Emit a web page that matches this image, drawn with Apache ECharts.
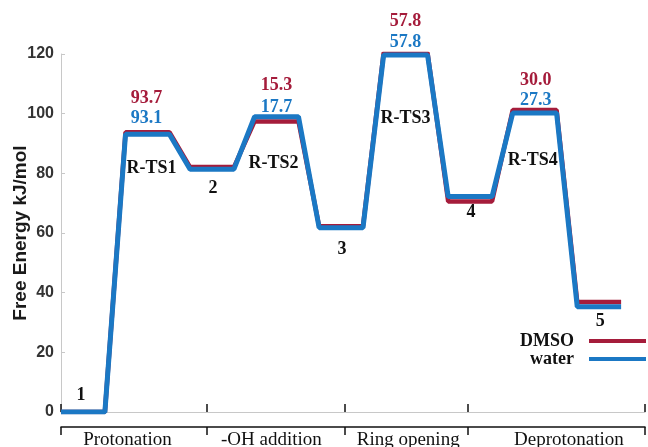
<!DOCTYPE html>
<html>
<head>
<meta charset="utf-8">
<script src="https://cdn.jsdelivr.net/npm/echarts@6/dist/echarts.min.js"></script>
<style>
  html, body { margin: 0; padding: 0; background: #fff; }
  #chart { width: 648px; height: 447px; }
</style>
</head>
<body>
<div id="chart"></div>
<script>
// states along the reaction path (plateau i spans [i, i + PLATEAU])
var states = ['1', 'R-TS1', '2', 'R-TS2', '3', 'R-TS3', '4', 'R-TS4', '5'];
var dmso = [0, 93.8, 82.1, 97.4, 62.3, 120.4, 70.6, 101.2, 36.9];
var water = [0, 93.1, 81.4, 99.0, 61.8, 119.7, 72.2, 100.2, 35.3];

// barrier numbers written over the transition states
var tsIndex = [1, 3, 5, 7];
var dmsoBarrier = ['93.7', '15.3', '57.8', '30.0'];
var waterBarrier = ['93.1', '17.7', '57.8', '27.3'];

// reaction stages along the bottom bracket
var phases = ['Protonation', '-OH addition', 'Ring opening', 'Deprotonation'];
var phaseBounds = [0, 2.26, 4.40, 6.31, 9.05];
var phaseLabelAt = [1.03, 3.26, 5.38, 7.87];

var PLATEAU = 0.68;
var RED = '#a51c3b';
var BLUE = '#1b78c4';

// label nudges in px (x, y) relative to each plateau centre
var stateLabelOff = [[-2, -17], [4, 34], [1, 19], [-3, 47], [1, 22], [0, 63], [1, 16], [-2, 47], [1, 15]];
var dmsoLabelOff = [[-1, -34], [0, -36], [0, -31], [1, -30]];
var waterLabelOff = [[-1, -16], [0, -9], [0, -13], [1, -13]];

function path(levels) {
  var pts = [];
  levels.forEach(function (v, i) {
    pts.push([i, v]);
    pts.push([i + PLATEAU, v]);
  });
  return pts;
}

var serifBold = { fontFamily: 'Liberation Serif', fontWeight: 'bold', fontSize: 18 };

var stateLabelData = states.map(function (s, i) {
  return {
    value: [i + PLATEAU / 2, water[i]],
    label: { formatter: s, offset: stateLabelOff[i] }
  };
});
var dmsoLabelData = tsIndex.map(function (k, j) {
  return {
    value: [k + PLATEAU / 2, dmso[k]],
    label: { formatter: dmsoBarrier[j], offset: dmsoLabelOff[j] }
  };
});
var waterLabelData = tsIndex.map(function (k, j) {
  return {
    value: [k + PLATEAU / 2, water[k]],
    label: { formatter: waterBarrier[j], offset: waterLabelOff[j] }
  };
});

function labelSeries(data, color) {
  return {
    type: 'scatter',
    silent: true,
    clip: false,
    symbolSize: 1,
    itemStyle: { color: 'rgba(0,0,0,0)', opacity: 1 },
    z: 5,
    label: Object.assign({ show: true, position: 'inside', color: color, opacity: 1 }, serifBold),
    data: data
  };
}

var myChart = echarts.init(document.getElementById('chart'), null, { renderer: 'canvas' });

var option = {
  animation: false,
  grid: { left: 61, right: 3, top: 54, bottom: 35, containLabel: false, outerBoundsMode: 'none' },
  legend: [
    {
      data: ['DMSO'], right: 2, top: 332, padding: 0, align: 'right',
      icon: 'rect', itemWidth: 57, itemHeight: 4,
      textStyle: Object.assign({ color: '#111', padding: [0, 10, 0, 0] }, serifBold)
    },
    {
      data: ['water'], right: 2, top: 350, padding: 0, align: 'right',
      icon: 'rect', itemWidth: 57, itemHeight: 4,
      textStyle: Object.assign({ color: '#111', padding: [0, 10, 0, 0] }, serifBold)
    }
  ],
  xAxis: [
    {
      type: 'value', min: 0, max: 9.05,
      axisLine: { show: true, onZero: false, lineStyle: { color: '#c8c8c8', width: 1 } },
      axisTick: { show: false }, axisLabel: { show: false }, splitLine: { show: false }
    },
    {
      type: 'value', min: 0, max: 9.05, position: 'bottom', offset: 15,
      axisLine: { show: true, onZero: false, lineStyle: { color: '#111', width: 1.5 } },
      axisTick: { show: true, customValues: phaseBounds, length: 8, lineStyle: { color: '#111', width: 1.5 } },
      axisLabel: {
        show: true, customValues: phaseLabelAt, margin: 4,
        fontFamily: 'Liberation Serif', fontSize: 19, color: '#111',
        formatter: function (v) { return phases[phaseLabelAt.indexOf(v)] || ''; }
      },
      splitLine: { show: false }
    },
    {
      type: 'value', min: 0, max: 9.05, position: 'bottom', offset: 15,
      axisLine: { show: false },
      axisTick: { show: true, inside: true, customValues: phaseBounds, length: 8, lineStyle: { color: '#111', width: 1.5 } },
      axisLabel: { show: false }, splitLine: { show: false }
    }
  ],
  yAxis: {
    type: 'value', min: 0, max: 120, interval: 20,
    name: 'Free Energy kJ/mol', nameLocation: 'middle', nameGap: 31, nameMoveOverlap: false,
    nameTextStyle: { fontFamily: 'Liberation Sans', fontWeight: 'bold', fontSize: 19, color: '#1a1a1a' },
    axisLine: { show: true, lineStyle: { color: '#c8c8c8' } },
    axisTick: { show: true, inside: true, length: 4, lineStyle: { color: '#c8c8c8' } },
    axisLabel: { margin: 7, fontFamily: 'Liberation Sans', fontWeight: 'bold', fontSize: 16, color: '#333' },
    splitLine: { show: false }
  },
  series: [
    {
      name: 'DMSO', type: 'line', data: path(dmso), showSymbol: false, symbol: 'none',
      lineStyle: { color: RED, width: 4.5 }, itemStyle: { color: RED }, z: 2
    },
    {
      name: 'water', type: 'line', data: path(water), showSymbol: false, symbol: 'none',
      lineStyle: { color: BLUE, width: 5 }, itemStyle: { color: BLUE }, z: 3
    },
    labelSeries(stateLabelData, '#111'),
    labelSeries(dmsoLabelData, RED),
    labelSeries(waterLabelData, BLUE)
  ]
};

myChart.setOption(option);
</script>
</body>
</html>
